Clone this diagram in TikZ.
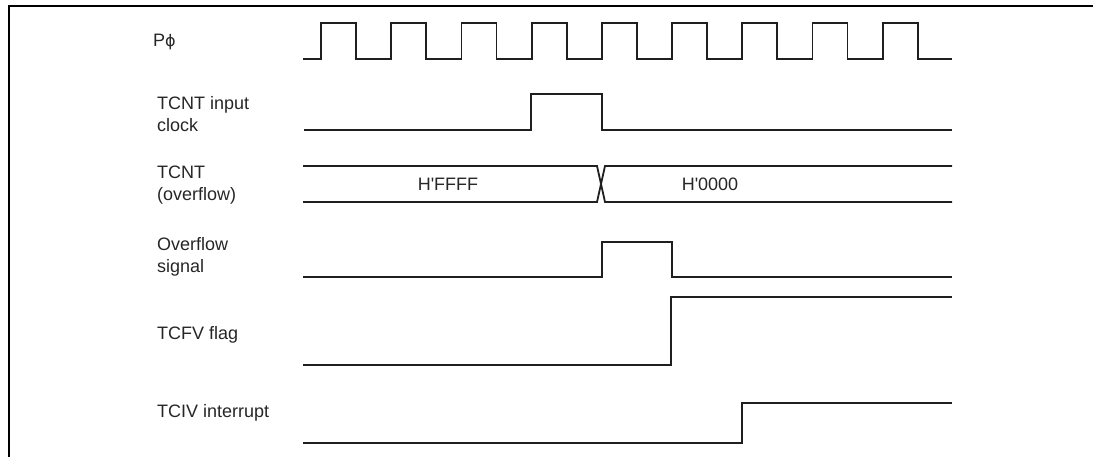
\documentclass[tikz,border=0pt]{standalone}
\usepackage{fontspec}
\setmainfont{Liberation Sans}
\newfontfamily\dvfont{DejaVu Sans}
\newfontfamily\valfont{Liberation Sans}
\begin{document}
\begin{tikzpicture}[x=1pt,y=-1pt,
  wave/.style={line width=1.8pt,color=black!88,line join=miter},
  frame/.style={line width=2.4pt,black},
  lbl/.style={anchor=west,inner sep=0pt,font=\fontsize{18}{22.5}\selectfont,align=left,text=black!85},
  val/.style={inner sep=0pt,font=\valfont\fontsize{18}{22}\selectfont,text=black!85}]
\useasboundingbox (0,0) rectangle (1094,457);
% frame
\draw[frame] (9,458) -- (9,6) -- (1093,6);
% labels
\node[lbl] (lphi) at (153,42) {P{\dvfont\fontsize{16}{20}\selectfont ϕ}};
\node[lbl] (lin) at (157,114) {TCNT input\\clock};
\node[lbl] (ltcnt) at (157,185) {TCNT\\(overflow)};
\node[lbl] (lovf) at (157,257) {Overflow\\signal};
\node[lbl] (lfv) at (157,335) {TCFV flag};
\node[lbl] (liv) at (157,413) {TCIV interrupt};
% clock
\draw[wave] (303,59)
  \foreach \k in {0,...,8} {
    -- ({321+70.2*\k},59) -- ({321+70.2*\k},23) -- ({356+70.2*\k},23) -- ({356+70.2*\k},59)
  } -- (952,59);
% TCNT input clock
\draw[wave] (304,130) -- (531,130) -- (531,94) -- (602,94) -- (602,130) -- (952,130);
% TCNT bus
\draw[wave] (303,166) -- (597,166) -- (605,202) -- (952,202);
\draw[wave] (303,202) -- (597,202) -- (605,166) -- (952,166);
\node[val] (vff) at (448,184) {H'FFFF};
\node[val] (v00) at (710,184) {H'0000};
% overflow signal
\draw[wave] (303,277) -- (602,277) -- (602,242) -- (672,242) -- (672,277) -- (952,277);
% TCFV flag
\draw[wave] (303,365) -- (671,365) -- (671,297) -- (952,297);
% TCIV interrupt
\draw[wave] (303,443) -- (742,443) -- (742,403) -- (952,403);
\end{tikzpicture}
\end{document}
